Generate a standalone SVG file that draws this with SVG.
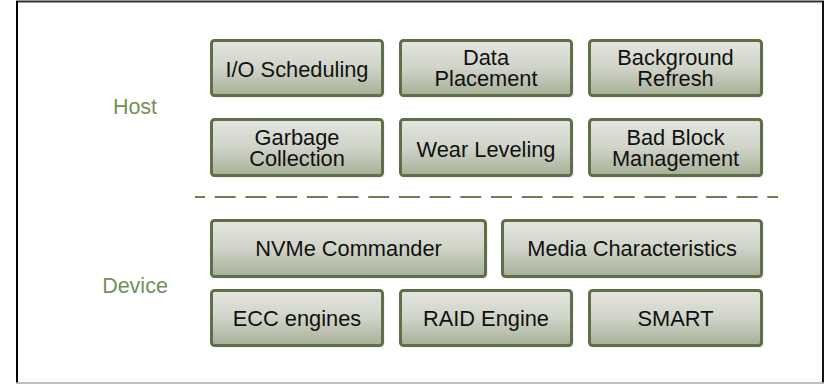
<svg xmlns="http://www.w3.org/2000/svg" width="829" height="384" viewBox="0 0 829 384">
  <defs>
    <linearGradient id="boxGrad" x1="0" y1="0" x2="0" y2="1">
      <stop offset="0" stop-color="#e4e5e0"/>
      <stop offset="0.5" stop-color="#d0d4c8"/>
      <stop offset="1" stop-color="#a6af97"/>
    </linearGradient>
  </defs>
  <style>
    .box { fill: url(#boxGrad); stroke: #5f7048; stroke-width: 3; }
    .shadow { fill: #d8d8d8; opacity: 0.6; }
    .t { font-family: "Liberation Sans", Arial, sans-serif; font-size: 21.8px; fill: #111; text-anchor: middle; }
    .lbl { font-family: "Liberation Sans", Arial, sans-serif; font-size: 21.5px; fill: #74905a; text-anchor: middle; }
    .sep { stroke: #6b7f52; stroke-width: 2; stroke-dasharray: 21 9.7; stroke-dashoffset: 11; fill: none; }
  </style>
  <rect x="0" y="0" width="829" height="384" fill="#fff"/>
  <!-- frame -->
  <g id="frame">
    <line x1="16" y1="1.5" x2="824" y2="1.5" stroke="#333" stroke-width="2"/>
    <line x1="17" y1="1" x2="17" y2="383" stroke="#000" stroke-width="2"/>
    <line x1="823" y1="1" x2="823" y2="383" stroke="#111" stroke-width="2"/>
    <line x1="16" y1="383" x2="824" y2="383" stroke="#aaa" stroke-width="1.5"/>
  </g>

  <g id="label-host"><text class="lbl" x="135" y="114">Host</text></g>
  <g id="label-device"><text class="lbl" x="135" y="293">Device</text></g>

  <g id="connectors">
    <line class="sep" x1="195" y1="197" x2="778" y2="197"/>
  </g>

  <!-- Host row 1 -->
  <g id="io-scheduling">
    <rect class="shadow" x="213.5" y="42.5" width="171" height="55" rx="3"/>
    <rect class="box" x="211.5" y="40.5" width="171" height="55" rx="3"/>
    <text class="t" x="297" y="77">I/O Scheduling</text>
  </g>
  <g id="data-placement">
    <rect class="shadow" x="402.5" y="42.5" width="171" height="55" rx="3"/>
    <rect class="box" x="400.5" y="40.5" width="171" height="55" rx="3"/>
    <text class="t" x="486" y="65">Data</text>
    <text class="t" x="486" y="86">Placement</text>
  </g>
  <g id="background-refresh">
    <rect class="shadow" x="591.5" y="42.5" width="172" height="55" rx="3"/>
    <rect class="box" x="589.5" y="40.5" width="172" height="55" rx="3"/>
    <text class="t" x="675.5" y="65">Background</text>
    <text class="t" x="675.5" y="86">Refresh</text>
  </g>

  <!-- Host row 2 -->
  <g id="garbage-collection">
    <rect class="shadow" x="213.5" y="121.5" width="171" height="56" rx="3"/>
    <rect class="box" x="211.5" y="119.5" width="171" height="56" rx="3"/>
    <text class="t" x="297" y="144.5">Garbage</text>
    <text class="t" x="297" y="165.5">Collection</text>
  </g>
  <g id="wear-leveling">
    <rect class="shadow" x="402.5" y="121.5" width="171" height="56" rx="3"/>
    <rect class="box" x="400.5" y="119.5" width="171" height="56" rx="3"/>
    <text class="t" x="486" y="156.5">Wear Leveling</text>
  </g>
  <g id="bad-block-management">
    <rect class="shadow" x="591.5" y="121.5" width="172" height="56" rx="3"/>
    <rect class="box" x="589.5" y="119.5" width="172" height="56" rx="3"/>
    <text class="t" x="675.5" y="144.5">Bad Block</text>
    <text class="t" x="675.5" y="165.5">Management</text>
  </g>

  <!-- Device row 1 -->
  <g id="nvme-commander">
    <rect class="shadow" x="213.5" y="222.5" width="274" height="56" rx="3"/>
    <rect class="box" x="211.5" y="220.5" width="274" height="56" rx="3"/>
    <text class="t" x="348.5" y="256">NVMe Commander</text>
  </g>
  <g id="media-characteristics">
    <rect class="shadow" x="504.5" y="222.5" width="259" height="56" rx="3"/>
    <rect class="box" x="502.5" y="220.5" width="259" height="56" rx="3"/>
    <text class="t" x="632" y="256">Media Characteristics</text>
  </g>

  <!-- Device row 2 -->
  <g id="ecc-engines">
    <rect class="shadow" x="213.5" y="292.5" width="171" height="55" rx="3"/>
    <rect class="box" x="211.5" y="290.5" width="171" height="55" rx="3"/>
    <text class="t" x="297" y="326">ECC engines</text>
  </g>
  <g id="raid-engine">
    <rect class="shadow" x="402.5" y="292.5" width="171" height="55" rx="3"/>
    <rect class="box" x="400.5" y="290.5" width="171" height="55" rx="3"/>
    <text class="t" x="486" y="326">RAID Engine</text>
  </g>
  <g id="smart">
    <rect class="shadow" x="591.5" y="292.5" width="172" height="55" rx="3"/>
    <rect class="box" x="589.5" y="290.5" width="172" height="55" rx="3"/>
    <text class="t" x="675.5" y="326">SMART</text>
  </g>
</svg>
